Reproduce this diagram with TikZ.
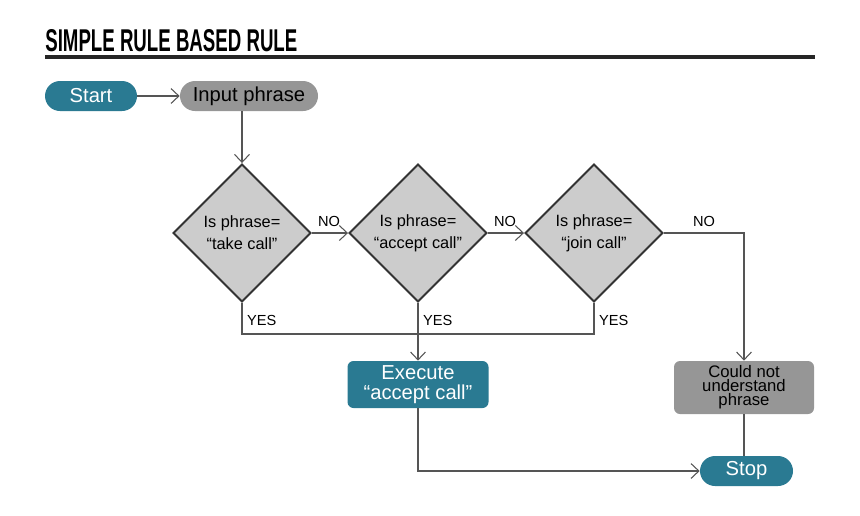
\documentclass[tikz,border=0pt]{standalone}
\usepackage{fontspec}
\setmainfont{Liberation Sans}
\usetikzlibrary{shapes.geometric,positioning,arrows.meta,calc}

\definecolor{tealBox}{RGB}{42,122,146}
\definecolor{grayBox}{RGB}{150,150,150}
\definecolor{diaFill}{RGB}{204,204,204}
\definecolor{diaLine}{RGB}{51,51,51}
\definecolor{wire}{RGB}{85,85,85}

\begin{document}
\begin{tikzpicture}[
    pill/.style   ={rounded corners=0.3cm,minimum height=0.6cm,inner sep=0pt,font=\fontsize{11.5}{12}\selectfont},
    box/.style    ={rounded corners=0.12cm,inner sep=0pt,align=center},
    dia/.style    ={diamond,aspect=1,minimum size=2.76cm,inner sep=0pt,fill=diaFill,draw=diaLine,line width=1.1pt,
                    align=center,font=\fontsize{9.3}{12.4}\selectfont},
    lbl/.style    ={font=\fontsize{8.3}{9}\selectfont,inner sep=1pt},
    line/.style   ={draw=wire,line width=0.6pt},
    arrow/.style  ={line,->,>={Straight Barb[length=4.5pt,width=8.5pt]}},
]
\useasboundingbox (0,0) rectangle (17.2,-10.3);

% ---------- Title ----------
\node[anchor=south west,inner sep=0pt] (title) at (0.9,-1.04)
  {\resizebox{5.04cm}{0.44cm}{\bfseries SIMPLE RULE BASED RULE}};
\draw[line width=2.3pt,draw=black!85] (0.9,-1.14) -- (16.3,-1.14);

% ---------- Start / input ----------
\node[pill, fill=tealBox, text=white, minimum width=1.84cm] (start) at (1.82,-1.92) {Start};
\node[pill, fill=grayBox, minimum width=2.76cm] (input) at (4.98,-1.92) {Input phrase};

% ---------- Decisions ----------
\node[dia] (take)   at (4.84,-4.66)  {Is phrase=\\“take call”};
\node[dia] (accept) at (8.36,-4.66)  {Is phrase=\\“accept call”};
\node[dia] (join)   at (11.88,-4.66) {Is phrase=\\“join call”};

% ---------- Outcomes ----------
\node[box, fill=tealBox, text=white, minimum width=2.82cm, minimum height=0.94cm,
      font=\fontsize{11.5}{11.4}\selectfont]
  (exec) at (8.36,-7.69) {Execute\\“accept call”};
\node[box, fill=grayBox, minimum width=2.8cm, minimum height=1.06cm,
      font=\fontsize{9.5}{8}\selectfont]
  (fail) at (14.88,-7.75) {Could not\\understand\\phrase};
\node[pill, fill=tealBox, text=white, minimum width=1.86cm] (stop) at (14.93,-9.42) {Stop};

% ---------- Connectors ----------
\draw[arrow] (start) -- (input);
\draw[arrow] (take |- input.south) -- (take.north);
\draw[arrow] (take) -- (accept);
\draw[arrow] (accept) -- (join);
\draw[arrow] (join.east) -| (fail.north);

\draw[line] (take.south) -- ++(0,-0.62) -| (join.south);
\draw[arrow] (accept) -- (exec);
\draw[arrow] (exec.south) |- (stop.west);
\draw[line] (fail.south) -- (fail.south |- stop.north);

% ---------- Labels ----------
\node[lbl, anchor=south west] at ([xshift=0.08cm,yshift=0.08cm]take.east)   {NO};
\node[lbl, anchor=south west] at ([xshift=0.08cm,yshift=0.08cm]accept.east) {NO};
\node[lbl, anchor=south west] at ([xshift=0.54cm,yshift=0.08cm]join.east)   {NO};

\node[lbl, anchor=west] at ([xshift=0.06cm,yshift=-0.36cm]take.south)   {YES};
\node[lbl, anchor=west] at ([xshift=0.06cm,yshift=-0.36cm]accept.south) {YES};
\node[lbl, anchor=west] at ([xshift=0.06cm,yshift=-0.36cm]join.south)   {YES};

\end{tikzpicture}
\end{document}
